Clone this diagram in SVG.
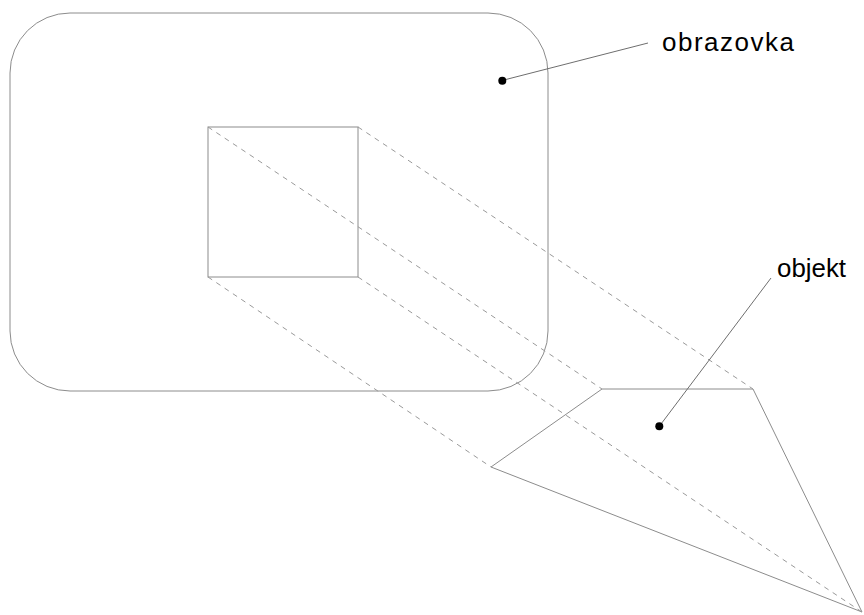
<svg xmlns="http://www.w3.org/2000/svg" width="864" height="615" viewBox="0 0 864 615">
<style>
.s{fill:none;stroke:#8c8c8c;stroke-width:1}
.d{fill:none;stroke:#9a9a9a;stroke-width:1;stroke-dasharray:5 5}
.l{fill:none;stroke:#6e6e6e;stroke-width:1}
.t{font-family:"Liberation Sans",Arial,sans-serif;font-size:26px;fill:#000}
</style>
<rect width="864" height="615" fill="#fff"/>
<g id="obrazovka">
<rect class="s" x="10" y="13" width="538" height="378" rx="60" ry="60"/>
</g>
<g id="square">
<rect class="s" x="208" y="127" width="150" height="150"/>
</g>
<g id="objekt">
<polygon class="s" points="602,389 753,389 862,612 491,467"/>
</g>
<g id="connectors">
<line class="d" x1="208" y1="127" x2="602" y2="389"/>
<line class="d" x1="358" y1="127" x2="753" y2="389"/>
<line class="d" x1="208" y1="277" x2="491" y2="467"/>
<line class="d" x1="358" y1="277" x2="862" y2="612"/>
<line class="l" x1="502" y1="80.5" x2="648" y2="43"/>
<circle cx="502.3" cy="80.7" r="4" fill="#000"/>
<line class="l" x1="659.3" y1="426.3" x2="771" y2="278"/>
<circle cx="659.3" cy="426.3" r="4" fill="#000"/>
</g>
<g id="labels">
<text class="t" x="662" y="51" textLength="132" lengthAdjust="spacing">obrazovka</text>
<text class="t" x="777" y="277" textLength="69" lengthAdjust="spacingAndGlyphs">objekt</text>
</g>
</svg>
